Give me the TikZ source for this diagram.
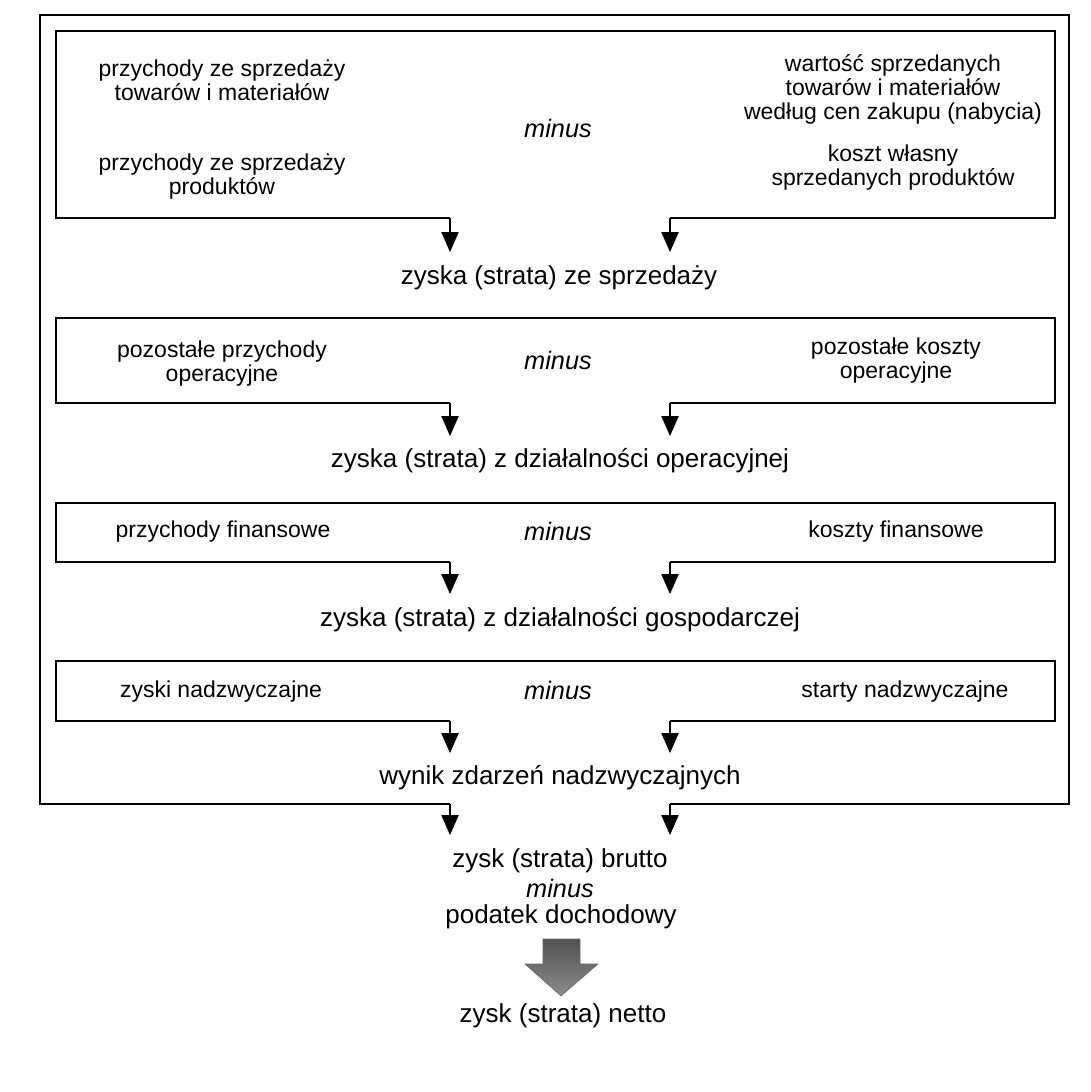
\documentclass[tikz,border=0pt]{standalone}
\usepackage{fontspec}
\setmainfont{Liberation Sans}
\usetikzlibrary{arrows.meta}
\begin{document}
\begin{tikzpicture}[x=0.75pt,y=-0.75pt,
  frame/.style={line width=1.1pt},
  outerframe/.style={line width=1.9pt},
  flow/.style={line width=0.9pt,-{Triangle[width=13pt,length=15pt]}},
  small/.style={font=\fontsize{17.25}{18}\selectfont,align=center,inner sep=0pt},
  big/.style={font=\fontsize{19.5}{21}\selectfont,align=center,inner sep=0pt},
  minusst/.style={font=\fontsize{19}{21}\selectfont\itshape,inner sep=0pt},
  bigarrow/.style={top color=black!68,bottom color=black!45,draw=black!60,line width=0.4pt}]
\useasboundingbox (0,0) rectangle (1091,1092);
\fill[white] (0,0) rectangle (1091,1092);

% outer frame
\draw[outerframe] (450,804) -| (40,15) -| (1069,804) -- (670,804);

% inner frames
\draw[frame] (450,218) -| (56,31) -| (1055,218) -- (670,218);
\draw[frame] (450,403) -| (56,318) -| (1055,403) -- (670,403);
\draw[frame] (450,562) -| (56,503) -| (1055,562) -- (670,562);
\draw[frame] (450,721) -| (56,661) -| (1055,721) -- (670,721);

% box 1 texts
\node[small] (a1) at (222,80) {przychody ze sprzedaży\\towarów i materiałów};
\node[small] (a2) at (222,177) {przychody ze sprzedaży\\produktów};
\node[minusst] (m1) at (558,128) {minus};
\node[small] (b1) at (893,89) {wartość sprzedanych\\towarów i materiałów\\według cen zakupu (nabycia)};
\node[small] (b2) at (893,168) {koszt własny\\sprzedanych produktów};
\node[big] (r1) at (559,278) {zyska (strata) ze sprzedaży};

% box 2 texts
\node[small] (a3) at (222,364) {pozostałe przychody\\operacyjne};
\node[minusst] (m2) at (558,360) {minus};
\node[small] (b3) at (896,361) {pozostałe koszty\\operacyjne};
\node[big] (r2) at (560,461) {zyska (strata) z działalności operacyjnej};

% box 3 texts
\node[small] (a4) at (223,532) {przychody finansowe};
\node[minusst] (m3) at (558,531) {minus};
\node[small] (b4) at (896,532) {koszty finansowe};
\node[big] (r3) at (560,620) {zyska (strata) z działalności gospodarczej};

% box 4 texts
\node[small] (a5) at (221,692) {zyski nadzwyczajne};
\node[minusst] (m4) at (558,690) {minus};
\node[small] (b5) at (905,692) {starty nadzwyczajne};
\node[big] (r4) at (560,778) {wynik zdarzeń nadzwyczajnych};

% bottom texts
\node[big] (r5) at (560,861) {zysk (strata) brutto};
\node[minusst] (m5) at (560,888) {minus};
\node[big] (r6) at (561,917) {podatek dochodowy};
\node[big] (r7) at (563,1016) {zysk (strata) netto};

% connector coordinates
\coordinate (s1l) at (450,218); \coordinate (e1l) at (450,252);
\coordinate (s1r) at (670,218); \coordinate (e1r) at (670,252);
\coordinate (s2l) at (450,403); \coordinate (e2l) at (450,436);
\coordinate (s2r) at (670,403); \coordinate (e2r) at (670,436);
\coordinate (s3l) at (450,562); \coordinate (e3l) at (450,594);
\coordinate (s3r) at (670,562); \coordinate (e3r) at (670,594);
\coordinate (s4l) at (450,721); \coordinate (e4l) at (450,753);
\coordinate (s4r) at (670,721); \coordinate (e4r) at (670,753);
\coordinate (s5l) at (450,804); \coordinate (e5l) at (450,835);
\coordinate (s5r) at (670,804); \coordinate (e5r) at (670,835);

\foreach \i in {1,...,5}{
  \draw[flow] (s\i l) -- (e\i l);
  \draw[flow] (s\i r) -- (e\i r);
}

% big grey arrow
\path[bigarrow] (543,939) -- (580,939) -- (580,964) -- (598,964) -- (561,996) -- (525,964) -- (543,964) -- cycle;
\end{tikzpicture}
\end{document}
